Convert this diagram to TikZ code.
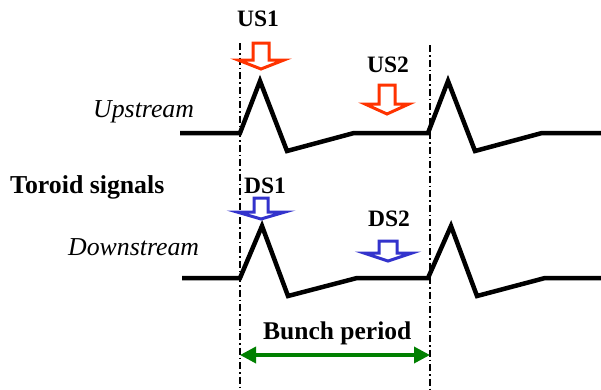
\documentclass[tikz,border=0pt]{standalone}
\usepackage{fontspec}
\setmainfont{Liberation Serif}
\usetikzlibrary{arrows.meta}
\definecolor{usred}{RGB}{255,51,0}
\definecolor{dsblue}{RGB}{51,51,204}
\definecolor{bgreen}{RGB}{0,128,0}
\tikzset{
  wave/.style={line width=4.5pt, line join=miter, miter limit=20},
  guide/.style={line width=1.1pt, dash pattern=on 7pt off 3pt on 1.5pt off 3pt},
  lbl/.style={inner sep=0pt, anchor=base west, font=\fontsize{25.8}{28}\selectfont},
  blk/.style={line width=3pt, fill=white, line join=miter},
}
% #1 colour, #2 centre x, #3 top, #4 neck, #5 tip, #6 shaft half width, #7 head half width
\newcommand\blockarr[7]{%
  \draw[blk, draw=#1] (#2-#6,#3) -- (#2+#6,#3) -- (#2+#6,#4) -- (#2+#7,#4) -- (#2,#5)
    -- (#2-#7,#4) -- (#2-#6,#4) -- cycle;}
\begin{document}
\begin{tikzpicture}[x=1pt,y=-1pt]
\useasboundingbox (0,0) rectangle (601,389);
% guides
\coordinate (g1t) at (240,43); \coordinate (g1b) at (240,389);
\coordinate (g2t) at (430,45); \coordinate (g2b) at (430,389);
\draw[guide] (g1t) -- (g1b);
\draw[guide] (g2t) -- (g2b);
% upstream waveform
\draw[wave] (180,133) -- (240,133) -- (260,81) -- (287,151) -- (354,133) -- (428,133)
  -- (448,81) -- (475,151) -- (542,133) -- (601,133);
% downstream waveform
\draw[wave] (182,278) -- (240,278) -- (262,226) -- (288,296) -- (357,278) -- (428,278)
  -- (451,226) -- (477,296) -- (545,278) -- (601,278);
% block arrows
\blockarr{usred}{261}{43}{60}{69}{8}{23}
\blockarr{usred}{387}{85}{104}{114}{8}{22}
\blockarr{dsblue}{261}{198}{212}{219}{7}{24}
\blockarr{dsblue}{388}{241}{253}{261}{9}{24}
% labels
\node[lbl, font=\fontsize{25.8}{28}\selectfont\itshape] (up) at (93,117) {Upstream};
\node[lbl, font=\fontsize{25.8}{28}\selectfont\bfseries] (tor) at (10,193) {Toroid signals};
\node[lbl, font=\fontsize{25.8}{28}\selectfont\itshape] (down) at (68,255) {Downstream};
\node[lbl, font=\fontsize{23.5}{28}\selectfont\bfseries] (us1) at (237,26) {US1};
\node[lbl, font=\fontsize{23.5}{28}\selectfont\bfseries] (us2) at (367,72) {US2};
\node[lbl, font=\fontsize{23.5}{28}\selectfont\bfseries] (ds1) at (244,193) {DS1};
\node[lbl, font=\fontsize{23.5}{28}\selectfont\bfseries] (ds2) at (368,226) {DS2};
\node[lbl, font=\fontsize{25.5}{28}\selectfont\bfseries] (bp) at (263,339) {Bunch period};
% bunch period arrow
\coordinate (pa) at (240,355); \coordinate (pb) at (430,355);
\draw[bgreen, line width=3.5pt, {Triangle[length=16pt,width=16pt]}-{Triangle[length=16pt,width=16pt]}] (pa) -- (pb);
\end{tikzpicture}
\end{document}
